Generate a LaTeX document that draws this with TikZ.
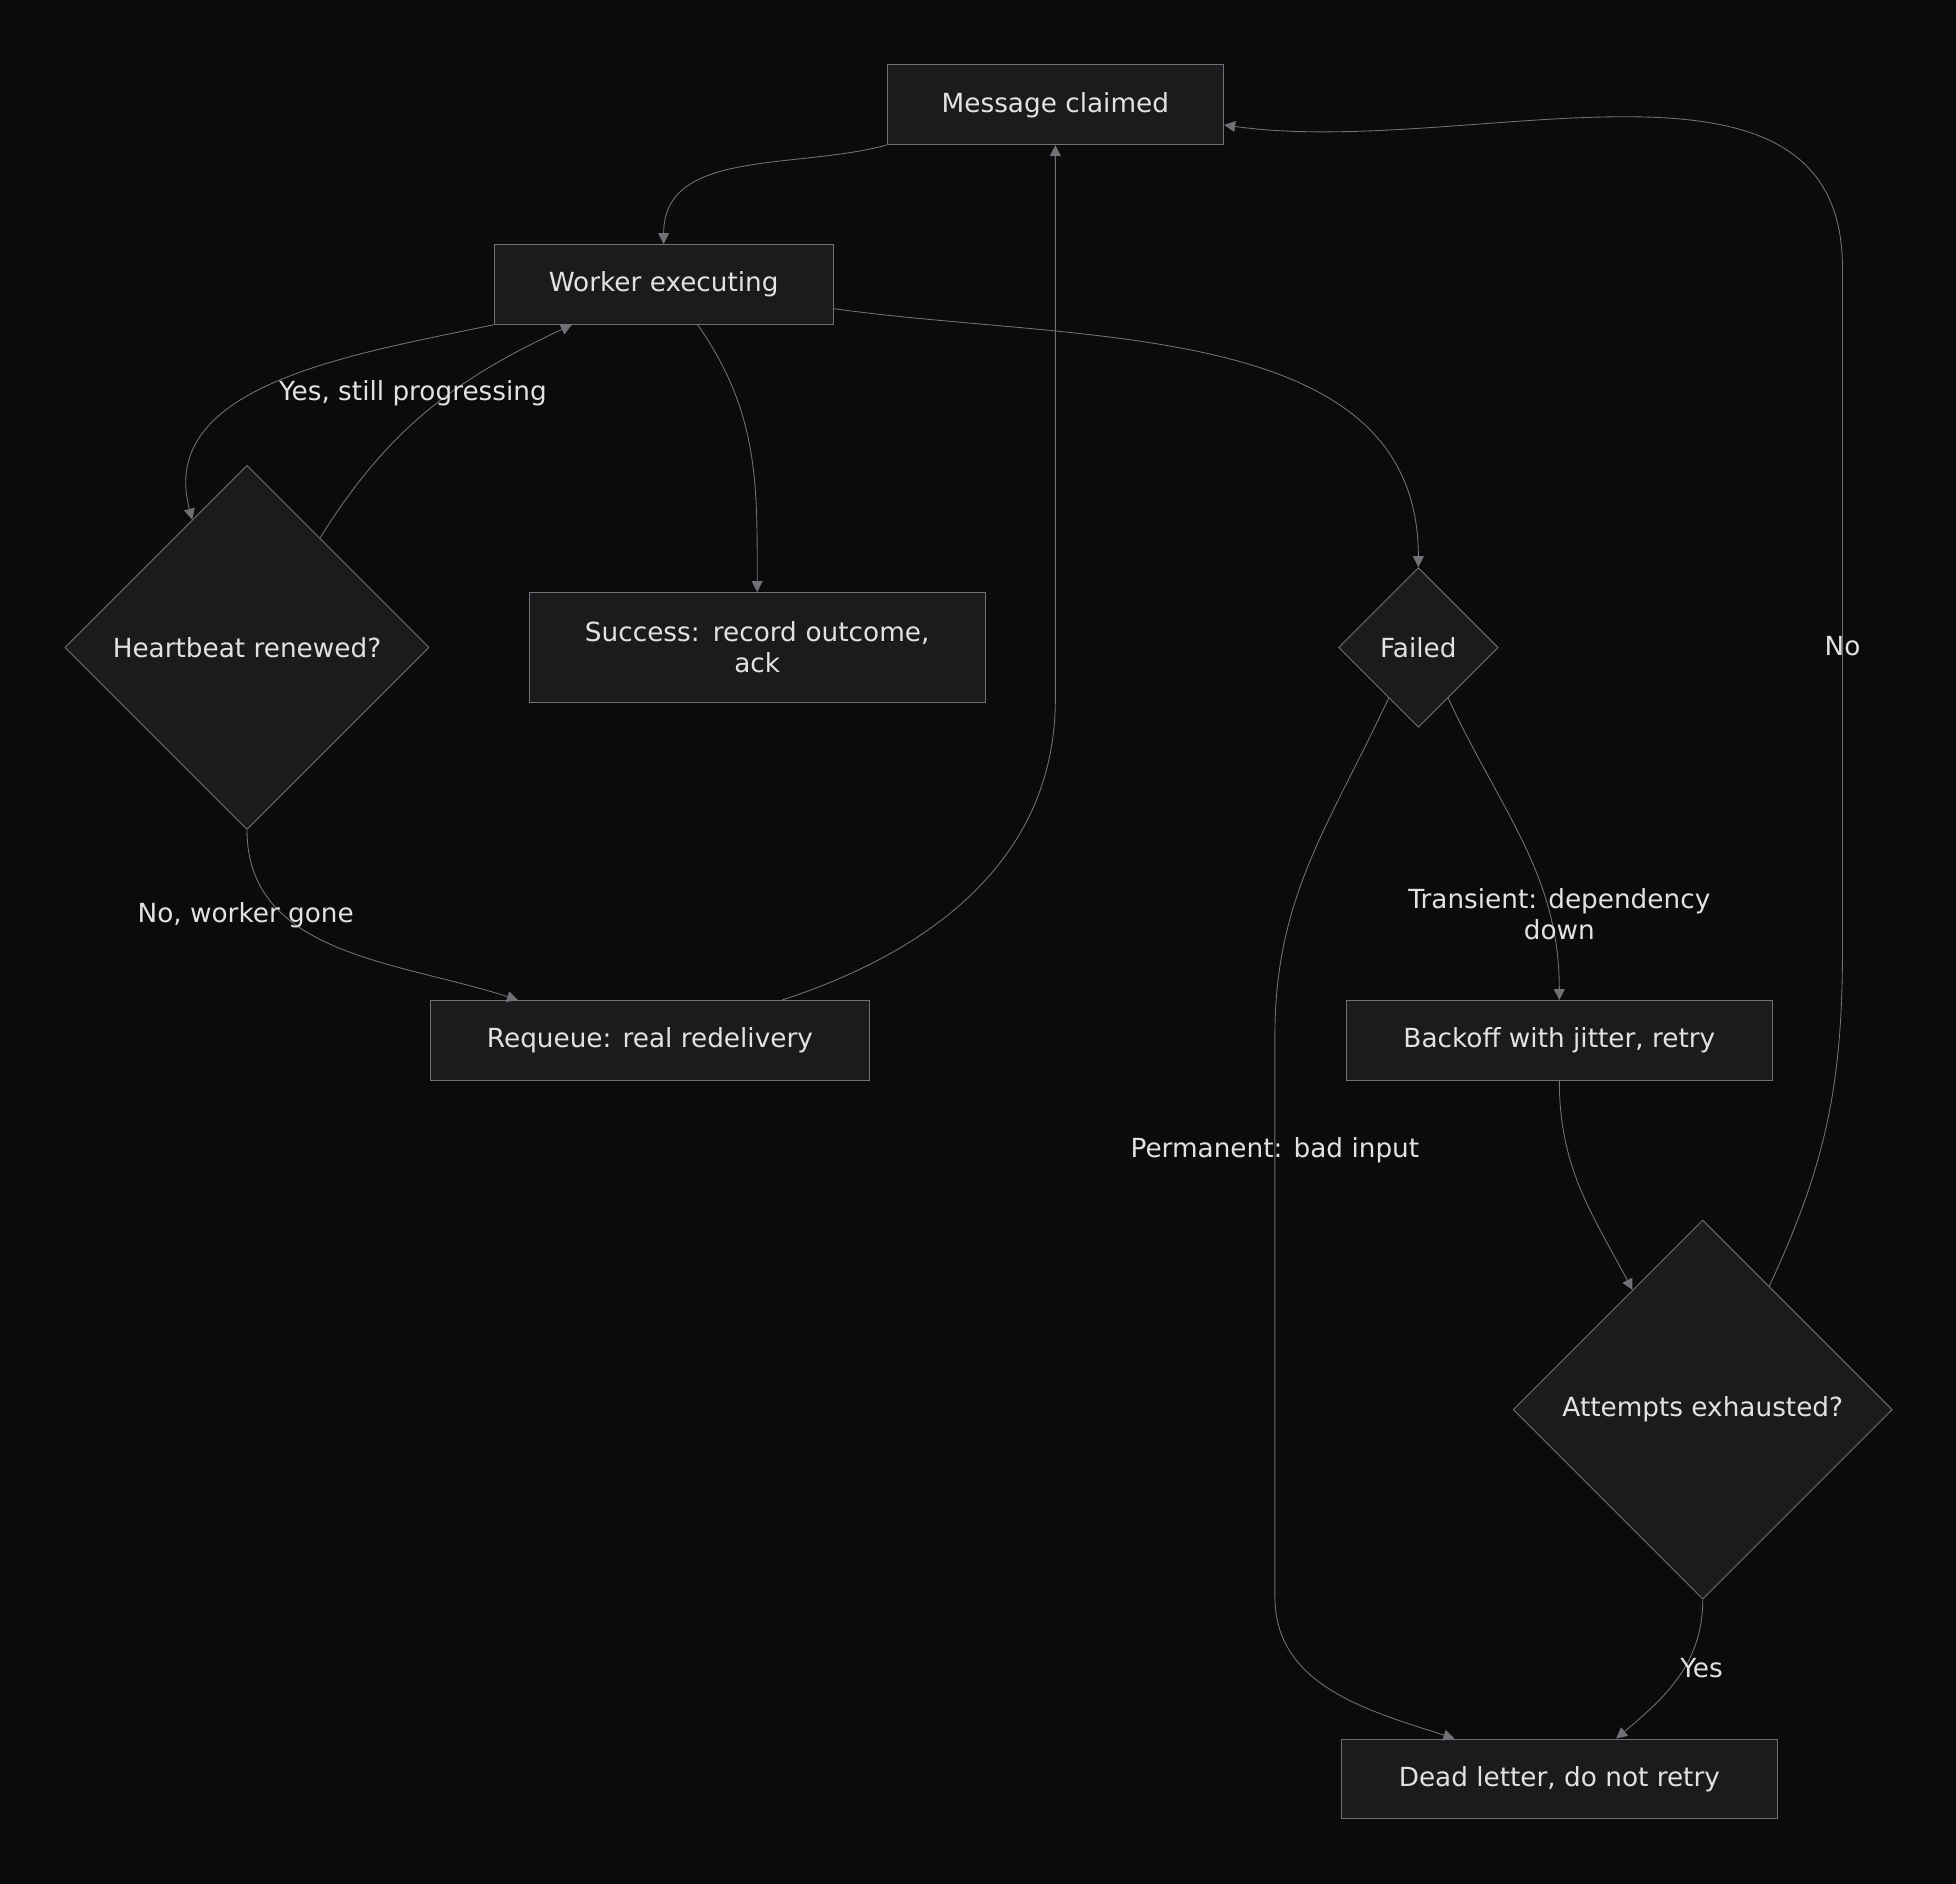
\documentclass[tikz,border=0pt]{standalone}
\usepackage{fontspec}
\setmainfont{DejaVu Sans}
\usetikzlibrary{arrows.meta,shapes.geometric,positioning,calc}
\definecolor{Bg}{HTML}{0B0B0C}
\definecolor{Boxfill}{HTML}{1B1B1E}
\definecolor{Line}{HTML}{707076}
\definecolor{Ink}{HTML}{E2E2E2}

\begin{document}
\begin{tikzpicture}
[x=0.02cm,y=-0.02cm,
    every node/.style={text=Ink,font=\fontsize{12}{14}\selectfont},
    block/.style={draw=Line,fill=Boxfill,thin,align=center,inner sep=0pt},
    decision/.style={diamond,draw=Line,fill=Boxfill,thin,aspect=1,inner sep=0pt,align=center},
    edge/.style={draw=Line,thin,-{Triangle[length=5pt,width=5pt]}},
    elabel/.style={align=center}]

\fill[Bg] (0,0) rectangle (1568,1510);

\node[block,minimum width=5.4cm,minimum height=1.28cm] (claimed) at (846,84) {Message claimed};
\node[block,minimum width=5.44cm,minimum height=1.28cm] (worker) at (532,228) {Worker executing};
\node[decision,minimum size=5.84cm] (heart) at (198,519) {Heartbeat renewed?};
\node[block,minimum width=7.32cm,minimum height=1.76cm,text width=6.4cm] (success) at (607,519) {Success: record outcome,\\ ack};
\node[block,minimum width=7.04cm,minimum height=1.28cm] (requeue) at (521,834) {Requeue: real redelivery};
\node[decision,minimum size=2.56cm] (failed) at (1137,519) {Failed};
\node[block,minimum width=6.84cm,minimum height=1.28cm] (backoff) at (1250,834) {Backoff with jitter, retry};
\node[decision,minimum size=6.08cm] (attempts) at (1365,1130) {Attempts exhausted?};
\node[block,minimum width=7cm,minimum height=1.28cm] (dead) at (1250,1426) {Dead letter, do not retry};

%% connectors
\draw[edge] (claimed.south west) to[out=195,in=90] (worker.north);
\draw[edge] (worker.south west) to[out=192,in=105] ($(heart.north)!0.3!(heart.west)$);
\draw[edge] ($(heart.north)!0.4!(heart.east)$) to[out=58,in=205] ($(worker.south west)!0.23!(worker.south east)$);
\draw[edge] ($(worker.south west)!0.6!(worker.south east)$) to[out=-55,in=90] (success.north);
\draw[edge] ($(worker.north east)!0.8!(worker.south east)$) to[out=-8,in=90] (failed.north);
\draw[edge] (heart.south) to[out=-90,in=162] ($(requeue.north west)!0.2!(requeue.north east)$);
\draw[edge] ($(requeue.north west)!0.8!(requeue.north east)$) to[out=18,in=-90] ($(claimed.south)+(0,444)$) -- (claimed.south);
\draw[edge] ($(failed.south)!0.37!(failed.west)$) to[out=-115,in=90] (1022,830) -- (1022,1280) to[out=-90,in=162] ($(dead.north west)!0.26!(dead.north east)$);
\draw[edge] ($(failed.south)!0.37!(failed.east)$) to[out=-65,in=90] (backoff.north);
\draw[edge] (backoff.south) to[out=-90,in=118] ($(attempts.north)!0.37!(attempts.west)$);
\draw[edge] ($(attempts.north)!0.35!(attempts.east)$) to[out=65,in=-90] (1477,760) -- (1477,215) to[out=90,in=-8] ($(claimed.north east)!0.75!(claimed.south east)$);
\draw[edge] (attempts.south) to[out=-90,in=40] ($(dead.north west)!0.63!(dead.north east)$);

%% labels
\node[elabel] (lyes1) at (331,315) {Yes, still progressing};
\node[elabel] (lno1) at (197,734) {No, worker gone};
\node[elabel] (ltrans) at (1250,733) {Transient: dependency\\ down};
\node[elabel] (lperm) at (1022,922) {Permanent: bad input};
\node[elabel] (lno2) at (1477,518) {No};
\node[elabel] (lyes2) at (1364,1337) {Yes};

\end{tikzpicture}
\end{document}
